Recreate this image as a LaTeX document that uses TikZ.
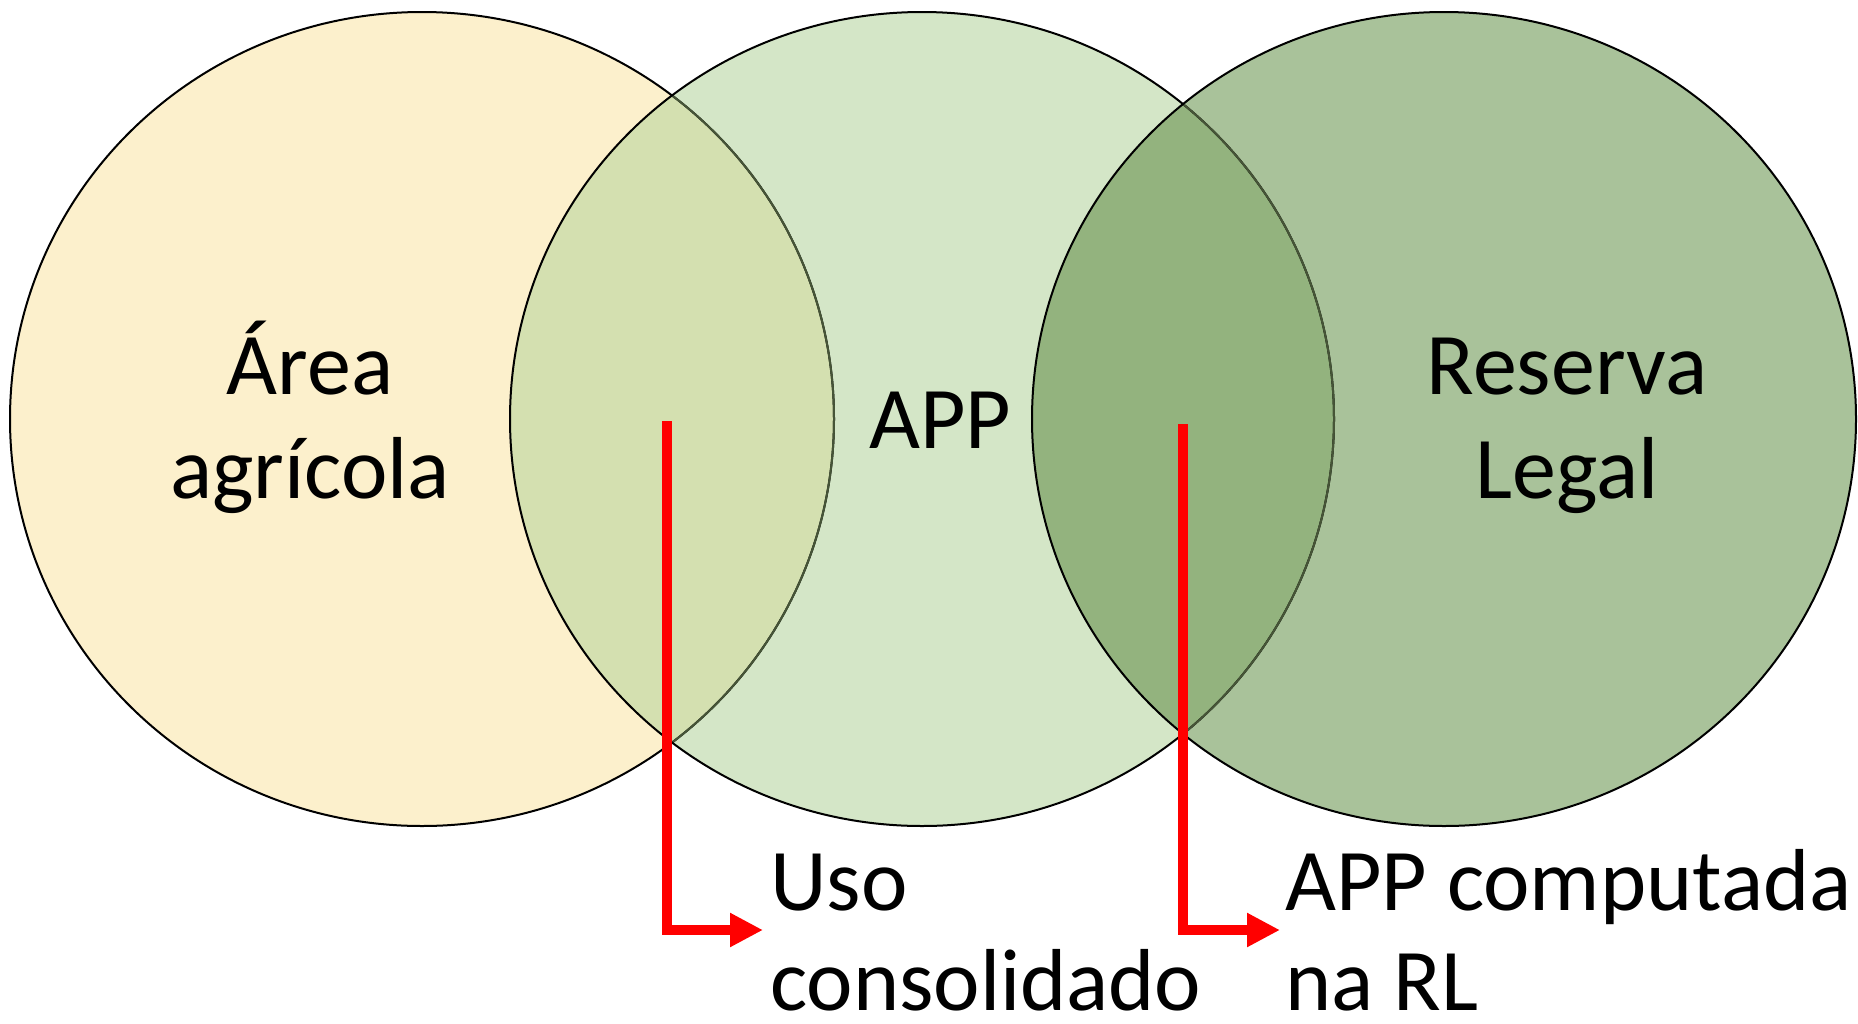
\documentclass[tikz,border=0pt]{standalone}
\usepackage{fontspec}
\setmainfont{Carlito}
\usetikzlibrary{arrows.meta}
\definecolor{cAgri}{RGB}{252,240,204}
\definecolor{cApp}{RGB}{212,230,199}
\definecolor{cRes}{RGB}{169,194,154}
\definecolor{cAgriApp}{RGB}{212,224,176}
\definecolor{cAppRes}{RGB}{147,179,126}
\definecolor{cHidden}{RGB}{70,85,55}
\definecolor{cArrow}{RGB}{255,0,0}
\tikzset{
  lbl/.style={font=\fontsize{88}{104}\selectfont, inner sep=0pt, anchor=base},
  lblw/.style={lbl, anchor=base west},
  ring/.style={draw=black, line width=2pt},
  hidden/.style={draw=cHidden, line width=2pt},
  pointer/.style={draw=cArrow, line width=10pt,
    -{Triangle[length=33pt,width=32pt]}, shorten >=0pt}
}
\begin{document}
\begin{tikzpicture}[x=1pt,y=-1pt]
\useasboundingbox (0,0) rectangle (1858,1023);
\coordinate (cA) at (422,419);
\coordinate (cB) at (922,419);
\coordinate (cC) at (1444,419);
\def\ellA{(cA) ellipse [x radius=412pt, y radius=407pt]}
\def\ellB{(cB) ellipse [x radius=412pt, y radius=407pt]}
\def\ellC{(cC) ellipse [x radius=412pt, y radius=407pt]}
% fills
\fill[cAgri] \ellA;
\fill[cApp] \ellB;
\fill[cRes] \ellC;
\begin{scope}
  \clip \ellA;
  \fill[cAgriApp] \ellB;
\end{scope}
\begin{scope}
  \clip \ellC;
  \fill[cAppRes] \ellB;
\end{scope}
% outlines
\path[ring] \ellA;
\begin{scope}
  \clip \ellB;
  \path[hidden] \ellA;
\end{scope}
\path[ring] \ellB;
\begin{scope}
  \clip \ellC;
  \path[hidden] \ellB;
\end{scope}
\path[ring] \ellC;
% labels
\node[lbl] (agri1) at (310,394) {Área};
\node[lbl] (agri2) at (310,498) {agrícola};
\node[lbl] (app) at (940,448) {APP};
\node[lbl] (res1) at (1567,394) {Reserva};
\node[lbl] (res2) at (1567,498) {Legal};
\node[lblw] (uso1) at (770,910) {Uso};
\node[lblw] (uso2) at (770,1010) {consolidado};
\node[lblw] (comp1) at (1285,910) {APP computada};
\node[lblw] (comp2) at (1285,1010) {na RL};
% pointers
\coordinate (s1) at (667,421);
\coordinate (e1) at (763,930);
\coordinate (s2) at (1183,424);
\coordinate (e2) at (1280,930);
\draw[pointer] (s1) |- (e1);
\draw[pointer] (s2) |- (e2);
\end{tikzpicture}
\end{document}
